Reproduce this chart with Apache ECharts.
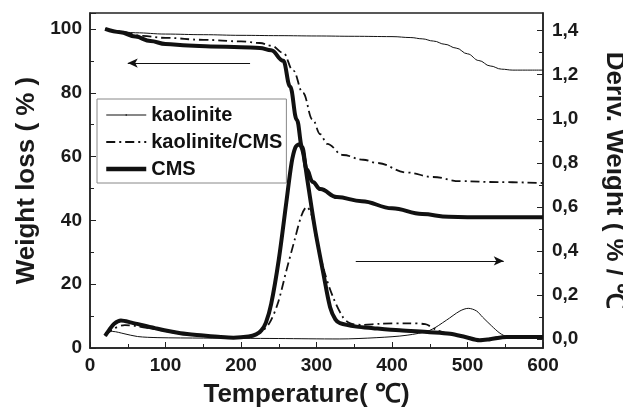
<!DOCTYPE html>
<html>
<head>
<meta charset="utf-8">
<script src="https://cdn.jsdelivr.net/npm/echarts@6/dist/echarts.min.js"></script>
<style>
  html, body { margin: 0; padding: 0; background: #fff; }
  #chart { width: 623px; height: 409px; }
</style>
</head>
<body>
<div id="chart"></div>
<script>
// TG curves, [temperature, weight %]
const kaoTG = [[20,100],[35,99.3],[60,98.8],[100,98.4],[150,98.2],[200,98.0],[250,97.9],[300,97.8],[350,97.7],[400,97.6],[425,97.3],[440,96.9],[455,96.2],[470,95.2],[485,94.0],[500,92.2],[515,90.1],[530,88.4],[545,87.4],[560,87.1],[600,87.1]]
const kcmsTG = [[20,100],[40,99.2],[70,97.8],[100,97.2],[150,96.6],[200,96.1],[225,95.6],[240,94.8],[256,92.5],[269,87],[282,80],[295,71.5],[305,67],[314,64],[335,60.5],[362,59],[380,58],[420,55],[454,53.6],[490,52.3],[540,52],[600,51.7]]
const cmsTG = [[20,100],[40,99],[60,97.6],[80,96.2],[100,95.3],[130,94.8],[160,94.5],[200,94.3],[225,94],[240,93.3],[256,90],[265,82],[274,71.5],[281,63],[287,56],[295,52],[305,49.8],[327,47.3],[360,46],[400,43.8],[440,42],[475,41.1],[500,41.0],[600,41]]

// DTG curves, [temperature, %/°C]
const kaoDTG = [[20,0.03],[30,0.035],[45,0.025],[63,0.012],[90,0.007],[150,0.005],[250,0.003],[330,0.001],[380,0.007],[420,0.018],[450,0.04],[472,0.086],[490,0.128],[501,0.14],[512,0.128],[520,0.10],[532,0.06],[543,0.027],[552,0.012],[570,0.008],[600,0.008]]
const cmsDTG = [[20,0.015],[25,0.04],[32,0.07],[41,0.085],[55,0.075],[86,0.05],[120,0.027],[150,0.017],[173,0.01],[190,0.007],[210,0.012],[220,0.022],[227,0.04],[233,0.075],[240,0.16],[250,0.36],[260,0.62],[267,0.80],[272,0.87],[277,0.885],[282,0.85],[288,0.72],[298,0.50],[309,0.30],[318,0.145],[325,0.09],[331,0.073],[353,0.057],[375,0.05],[410,0.04],[450,0.032],[477,0.025],[497,0.01],[516,-0.005],[530,0.0],[552,0.01],[600,0.01]]
const kcmsDTG = [[20,0.015],[30,0.045],[46,0.064],[60,0.06],[86,0.045],[120,0.025],[150,0.015],[175,0.01],[200,0.01],[215,0.015],[226,0.03],[238,0.075],[249,0.165],[260,0.31],[271,0.45],[280,0.56],[287,0.60],[293,0.57],[300,0.45],[311,0.30],[322,0.19],[335,0.10],[344,0.073],[360,0.065],[384,0.07],[420,0.072],[444,0.068],[460,0.04],[480,0.02],[500,0.01],[516,-0.003],[540,0.008],[600,0.01]]

// arrows pointing to each axis
const leftArrow = [[212, 89.3], [50, 89.3]]
const rightArrow = [[352, 0.355], [548, 0.355]]

const rightTicks = [0, 0.2, 0.4, 0.6, 0.8, 1.0, 1.2, 1.4]
const rightMinorTicks = [0.1, 0.3, 0.5, 0.7, 0.9, 1.1, 1.3]

const font = "'Liberation Sans', Arial, sans-serif"
const ink = '#111'

const chart = echarts.init(document.getElementById('chart'))

function arrow(pts) {
  return {
    silent: true,
    symbol: ['none', 'arrow'],
    symbolSize: [7, 10],
    label: { show: false },
    lineStyle: { color: ink, width: 1.2, type: 'solid' },
    data: [[{ coord: pts[0] }, { coord: pts[1] }]]
  }
}

function line(name, data, yIdx, width, type) {
  return {
    name: name,
    type: 'line',
    data: data,
    yAxisIndex: yIdx,
    showSymbol: false,
    symbol: 'none',
    // TG curves stay monotone, DTG peaks use plain smoothing
    smooth: yIdx === 0 ? 0.4 : 0.3,
    smoothMonotone: yIdx === 0 ? 'x' : null,
    lineStyle: { color: ink, width: width, type: type },
    itemStyle: { color: ink }
  }
}

const dashDot = [9, 4, 2, 4]

const series = [
  line('kaolinite', kaoTG, 0, 1, 'solid'),
  line('kaolinite/CMS', kcmsTG, 0, 1.8, dashDot),
  line('CMS', cmsTG, 0, 4, 'solid'),
  line('kaolinite', kaoDTG, 1, 1, 'solid'),
  line('kaolinite/CMS', kcmsDTG, 1, 1.8, dashDot),
  line('CMS', cmsDTG, 1, 4, 'solid')
]
series[2].markLine = arrow(leftArrow)
series[5].markLine = arrow(rightArrow)

const tickLabel = { color: '#1a1a1a', fontSize: 19, fontWeight: 'bold', fontFamily: font }
const title = { color: '#1a1a1a', fontSize: 26, fontWeight: 'bold', fontFamily: font }

chart.setOption({
  animation: false,
  grid: {
    left: 90, right: 80, top: 13, bottom: 61,
    outerBoundsMode: 'none',
    containLabel: false,
    show: true, borderColor: '#222', borderWidth: 1.5
  },
  legend: {
    data: [
      { name: 'kaolinite', lineStyle: { width: 1.2 } },
      { name: 'kaolinite/CMS', lineStyle: { width: 1.8 } },
      { name: 'CMS', lineStyle: { width: 4.5 } }
    ],
    orient: 'vertical',
    left: 97, top: 99,
    selectedMode: false,
    borderColor: '#888', borderWidth: 1,
    padding: [6, 4, 4, 7],
    itemWidth: 40, itemHeight: 2, itemGap: 7,
    textStyle: { color: ink, fontSize: 20, fontWeight: 'bold', fontFamily: font, lineHeight: 20 }
  },
  xAxis: {
    type: 'value',
    min: 0, max: 600, interval: 100,
    name: 'Temperature( ℃)',
    nameLocation: 'middle',
    nameGap: 34,
    nameTextStyle: Object.assign({ padding: [0, 20, 0, 0] }, title),
    axisLine: { lineStyle: { color: '#222', width: 1.5 } },
    axisTick: { inside: true, length: 6, lineStyle: { color: '#222' } },
    minorTick: { show: true, splitNumber: 2, length: 4, lineStyle: { color: '#222' } },
    splitLine: { show: false },
    axisLabel: Object.assign({ margin: 8 }, tickLabel)
  },
  yAxis: [
    {
      type: 'value',
      min: 0, max: 105, interval: 20,
      position: 'left',
      name: 'Weight loss ( % )',
      nameLocation: 'middle',
      nameGap: 50,
      nameTextStyle: title,
      axisLine: { show: true, lineStyle: { color: '#222', width: 1.5 } },
      axisTick: { inside: true, length: 6, lineStyle: { color: '#222' } },
      minorTick: { show: true, splitNumber: 2, length: 4, lineStyle: { color: '#222' } },
      splitLine: { show: false },
      axisLabel: Object.assign({ margin: 8, showMaxLabel: false }, tickLabel)
    },
    {
      type: 'value',
      min: -0.04, max: 1.48,
      position: 'right',
      name: 'Deriv. Weight ( % / ℃',
      nameLocation: 'middle',
      nameRotate: -90,
      nameGap: 58,
      nameTextStyle: title,
      axisLine: { show: true, lineStyle: { color: '#222', width: 1.5 } },
      axisTick: { inside: true, length: 6, customValues: rightTicks, lineStyle: { color: '#222' } },
      splitLine: { show: false },
      axisLabel: Object.assign({
        margin: 9,
        customValues: rightTicks,
        formatter: v => v.toFixed(1).replace('.', ',')
      }, tickLabel)
    },
    {
      type: 'value',
      min: -0.04, max: 1.48,
      position: 'right',
      axisLine: { show: false },
      axisTick: { show: true, inside: true, length: 4, customValues: rightMinorTicks, lineStyle: { color: '#222' } },
      splitLine: { show: false },
      axisLabel: { show: false, customValues: rightMinorTicks }
    }
  ],
  series: series
})
</script>
</body>
</html>
